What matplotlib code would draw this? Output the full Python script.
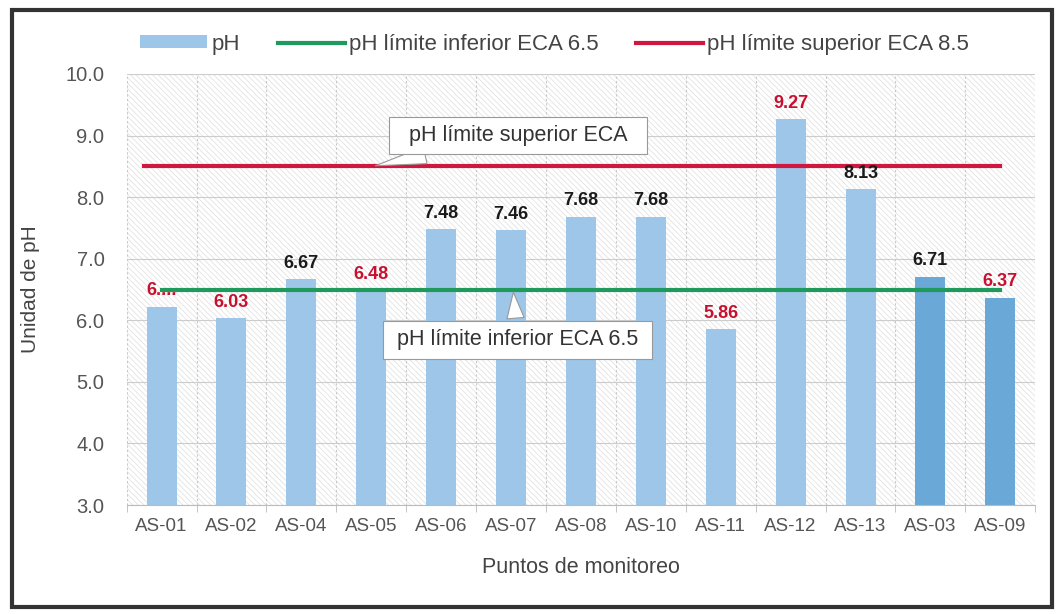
import matplotlib
matplotlib.use("Agg")
import matplotlib.pyplot as plt
from matplotlib.patches import Rectangle
import numpy as np

plt.rcParams['font.family'] = ['Liberation Sans', 'DejaVu Sans']
plt.rcParams['hatch.linewidth'] = 0.5

categories = ["AS-01", "AS-02", "AS-04", "AS-05", "AS-06", "AS-07", "AS-08",
              "AS-10", "AS-11", "AS-12", "AS-13", "AS-03", "AS-09"]
ph_values = [6.22, 6.03, 6.67, 6.48, 7.48, 7.46, 7.68, 7.68, 5.86, 9.27, 8.13, 6.71, 6.37]
value_labels = ["6....", "6.03", "6.67", "6.48", "7.48", "7.46", "7.68",
                "7.68", "5.86", "9.27", "8.13", "6.71", "6.37"]
limit_low = 6.5
limit_high = 8.5
y_ticks = [3.0, 4.0, 5.0, 6.0, 7.0, 8.0, 9.0, 10.0]

bar_light = "#9dc6e8"
bar_dark = "#6aa8d8"
green = "#1f9a5c"
red = "#d0173f"
over_color = "#c8102e"

fig = plt.figure(figsize=(10.64, 6.14), dpi=100)
# outer frame
fig.patches.append(Rectangle((0.011, 0.012), 0.978, 0.972, transform=fig.transFigure,
                             fill=False, ec="#333333", lw=3))
ax = fig.add_axes([0.119, 0.1775, 0.854, 0.702])

x = np.arange(len(categories))
colors = [bar_light] * (len(categories) - 2) + [bar_dark] * 2

# hatched background
ax.add_patch(Rectangle((0, 0), 1, 1, transform=ax.transAxes, fill=False,
                       hatch='\\\\\\\\\\\\', ec="#dedede", lw=0, zorder=0))

bar_h = ax.bar(x, ph_values, width=0.43, color=colors, zorder=2, label="pH")
red_h, = ax.plot([x[0] - 0.25, x[-1]], [limit_high, limit_high], color=red, lw=3, zorder=3,
                 label="pH límite superior ECA 8.5")
green_h, = ax.plot([x[0], x[-1]], [limit_low, limit_low], color=green, lw=3, zorder=3,
                   label="pH límite inferior ECA 6.5")

for xi, v, lab in zip(x, ph_values, value_labels):
    c = over_color if (v < limit_low or v > limit_high) else "#1a1a1a"
    ax.text(xi, v + 0.12, lab, ha="center", va="bottom", fontsize=13,
            fontweight="bold", color=c, zorder=5)

ax.set_xlim(-0.5, len(categories) - 0.5)
ax.set_ylim(3.0, 10.0)
ax.set_yticks(y_ticks)
ax.set_yticklabels([f"{t:.1f}" for t in y_ticks], fontsize=14.5, color="#555555")
ax.set_xticks(x)
ax.set_xticklabels(categories, fontsize=13.5, color="#555555")
ax.tick_params(axis="x", length=0, pad=9)
ax.tick_params(axis="y", length=0, pad=16)
ax.set_xticks(np.arange(-0.5, len(categories), 1.0), minor=True)
ax.tick_params(axis="x", which="minor", length=5, color="#bbbbbb")
ax.grid(True, axis="y", color="#cccccc", ls="-", lw=0.8, zorder=1)
ax.grid(True, axis="x", which="minor", color="#c8c8c8", ls=(0, (2, 2)), lw=0.8, zorder=1)
ax.grid(False, axis="x", which="major")
for s in ["top", "right", "left"]:
    ax.spines[s].set_visible(False)
ax.spines["bottom"].set_color("#bbbbbb")

ax.set_ylabel("Unidad de pH", fontsize=15, color="#444444", labelpad=18)
ax.set_xlabel("Puntos de monitoreo", fontsize=15.5, color="#444444", labelpad=16)

# callouts
box = dict(boxstyle="square,pad=0.38", fc="white", ec="#999999", lw=0.8)
arrow = dict(arrowstyle="wedge,tail_width=0.8,shrink_factor=0.5",
             fc="white", ec="#999999", lw=0.8)
ax.annotate("  pH límite superior ECA  ", xy=(3.02, limit_high), xytext=(5.1, 9.0),
            ha="center", va="center", fontsize=15.5, color="#333333", zorder=6,
            bbox=box, arrowprops=arrow)
ax.annotate(" pH límite inferior ECA 6.5 ", xy=(5.03, limit_low), xytext=(5.09, 5.68),
            ha="center", va="center", fontsize=15.5, color="#333333", zorder=6,
            bbox=box, arrowprops=arrow)

leg = fig.legend([bar_h, green_h, red_h],
                 [bar_h.get_label(), green_h.get_label(), red_h.get_label()],
                 loc="center left", bbox_to_anchor=(0.132, 0.928), borderaxespad=0,
                 borderpad=0, ncol=3, frameon=False, fontsize=16,
                 handlelength=3.0, handleheight=0.5, handletextpad=0.2, columnspacing=1.7)
for t in leg.get_texts():
    t.set_color("#444444")

fig.savefig("out.png", dpi=100)
